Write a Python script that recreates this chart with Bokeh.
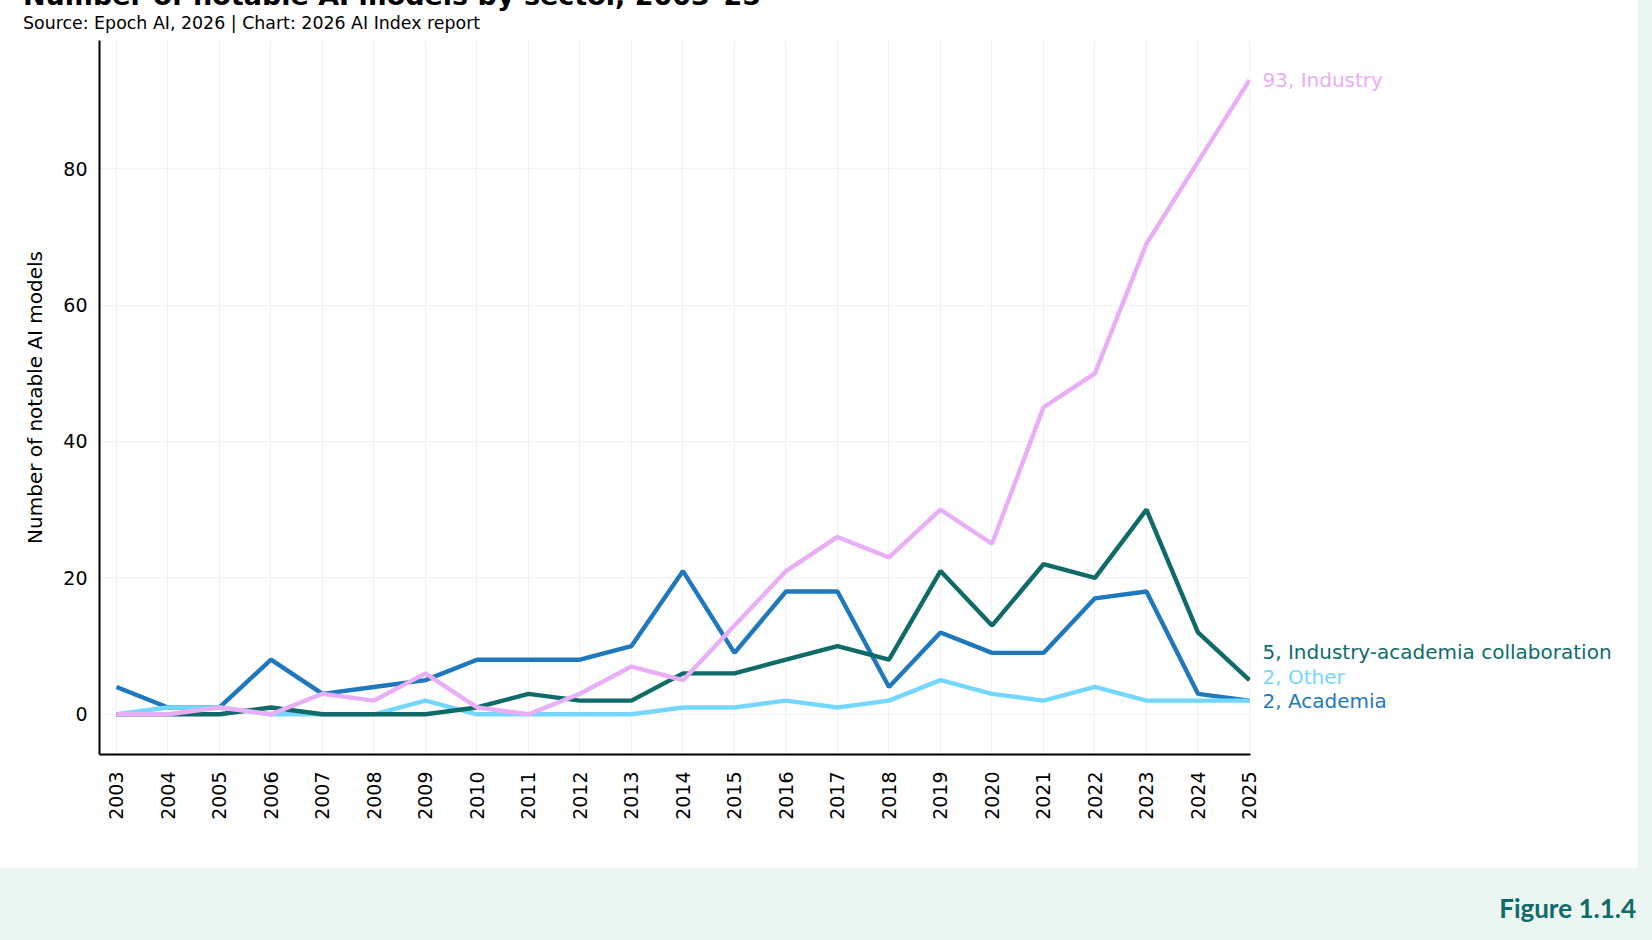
import math
from bokeh.plotting import figure
from bokeh.models import Range1d, Div, FixedTicker, ColumnDataSource
from bokeh.layouts import column, row
from bokeh.embed import file_html
from bokeh.resources import INLINE
from bokeh.core.properties import value

years = list(range(2003, 2026))
industry = [0, 0, 1, 0, 3, 2, 6, 1, 0, 3, 7, 5, 13, 21, 26, 23, 30, 25, 45, 50, 69, 81, 93]
academia = [4, 1, 1, 8, 3, 4, 5, 8, 8, 8, 10, 21, 9, 18, 18, 4, 12, 9, 9, 17, 18, 3, 2]
collab = [0, 0, 0, 1, 0, 0, 0, 1, 3, 2, 2, 6, 6, 8, 10, 8, 21, 13, 22, 20, 30, 12, 5]
other = [0, 1, 1, 0, 0, 0, 2, 0, 0, 0, 0, 1, 1, 2, 1, 2, 5, 3, 2, 4, 2, 2, 2]
series_names = ["Industry", "Industry-academia collaboration", "Other", "Academia"]
y_ticks = [0, 20, 40, 60, 80]

C_IND = "#e9aef7"
C_ACA = "#1f78be"
C_COL = "#0f6b68"
C_OTH = "#74d7ff"
BAND = "#ebf5f1"
FONT = "DejaVu Sans"

yr = Range1d(-5.9, 98.8)

# ---- title area ----
title_div = Div(
    width=1638, height=40, margin=0,
    styles={"background-color": "white"},
    text=(
        '<div style="position:relative;width:1638px;height:40px;overflow:hidden;">'
        '<div style="position:absolute;left:23px;top:-18px;white-space:nowrap;'
        'font-family:\'DejaVu Sans\';font-weight:bold;font-size:27px;line-height:27px;color:#000;">'
        'Number of notable AI models by sector, 2003\u201325</div>'
        '<div style="position:absolute;left:23px;top:15px;white-space:nowrap;'
        'font-family:\'DejaVu Sans\';font-size:17.4px;line-height:17px;color:#000;">'
        'Source: Epoch AI, 2026 | Chart: 2026 AI Index report</div>'
        '</div>'
    ),
)

# ---- main chart ----
p = figure(width=1262, height=828, output_backend="svg", toolbar_location=None,
           x_range=Range1d(2002.67, 2025.02), y_range=yr, margin=0,
           min_border_left=99, min_border_right=12, min_border_top=0,
           min_border_bottom=114)
p.background_fill_color = "white"
p.border_fill_color = "white"
p.outline_line_color = None

p.xaxis.ticker = FixedTicker(ticks=years)
p.yaxis.ticker = FixedTicker(ticks=y_ticks)
for ax in (p.xaxis[0], p.yaxis[0]):
    ax.axis_line_color = "black"
    ax.axis_line_width = 2
    ax.major_tick_line_color = None
    ax.minor_tick_line_color = None
    ax.major_label_text_font = FONT
    ax.major_label_text_font_size = "19px"
    ax.major_label_text_color = "black"
    ax.major_label_standoff = 11
p.xaxis.major_label_orientation = math.pi / 2
p.yaxis.major_label_standoff = 6
p.yaxis.axis_label = "Number of notable AI models"
p.yaxis.axis_label_text_font = FONT
p.yaxis.axis_label_text_font_size = "20px"
p.yaxis.axis_label_text_font_style = "normal"
p.yaxis.axis_label_text_color = "black"
p.yaxis.axis_label_standoff = 13
p.xgrid.grid_line_color = "#f1f1f1"
p.ygrid.grid_line_color = "#f1f1f1"

for ys, col in ((academia, C_ACA), (other, C_OTH), (collab, C_COL), (industry, C_IND)):
    p.line(years, ys, line_color=col, line_width=4.4)

# ---- end labels panel (shares the y scale) ----
q = figure(width=376, height=828, output_backend="svg", toolbar_location=None,
           x_range=Range1d(0, 376), y_range=yr, margin=0,
           x_axis_location=None, y_axis_location=None,
           min_border_left=0, min_border_right=0, min_border_top=0,
           min_border_bottom=114)
q.background_fill_color = "white"
q.border_fill_color = "white"
q.outline_line_color = None
q.grid.visible = False

ends = [industry[-1], collab[-1], other[-1], academia[-1]]
src = ColumnDataSource(dict(
    x=[0, 0, 0, 0],
    y=ends,
    text=[f"{v}, {n}" for v, n in zip(ends, series_names)],
    color=[C_IND, C_COL, C_OTH, C_ACA],
    dy=[0, -28, -24, 0],
))
q.text(x="x", y="y", text="text", text_color="color", y_offset="dy", source=src,
       text_baseline="middle", text_align="left", text_font=value(FONT),
       text_font_size="20px")

# ---- bottom band ----
band_div = Div(text="Figure 1.1.4", width=1636, height=72, margin=0,
               styles={"font-family": "Lato", "font-size": "26px", "font-weight": "bold",
                       "color": C_COL, "text-align": "right", "line-height": "80px"})

chart_row = row(p, q, spacing=0, margin=0, width=1638, height=828,
                styles={"background-color": "white"})

layout = column(title_div, chart_row, band_div,
                width=1652, height=940, spacing=0, margin=0,
                styles={"background-color": BAND})

open("out.html", "w").write(file_html(layout, INLINE))
